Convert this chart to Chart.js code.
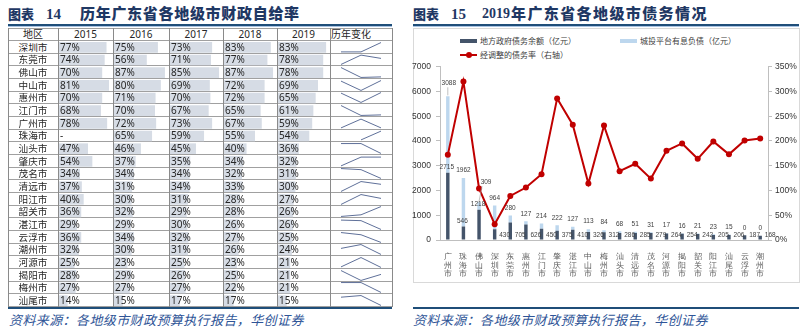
<!DOCTYPE html>
<html><head><meta charset="utf-8">
<script src="https://cdn.jsdelivr.net/npm/chart.js@4.4.1/dist/chart.umd.min.js"></script>
<style>
html,body{margin:0;padding:0;background:#fff;}
body{width:805px;height:335px;position:relative;overflow:hidden;font-family:"Noto Sans CJK SC","Noto Sans",sans-serif;}
.a{position:absolute;white-space:nowrap;}
.ttl{color:#1f3864;font-weight:900;font-size:15px;line-height:18px;}
.num{font-family:"Liberation Serif",serif;font-weight:700;font-size:15px;}
.foot{color:#2f5597;font-style:italic;font-size:13px;line-height:16px;letter-spacing:0.4px;}
.cell{font-size:10px;color:#262626;}
.dig{font-family:"Noto Sans","Liberation Sans",sans-serif;font-size:10px;color:#262626;}
.lg{font-size:8px;color:#404040;line-height:10px;}
canvas{position:absolute;}
</style></head>
<body>
<script>
// ---------------- data: left table ----------------
const cities = ['深圳市','东莞市','佛山市','中山市','惠州市','江门市','广州市','珠海市','汕头市','肇庆市','茂名市','清远市','阳江市','韶关市','湛江市','云浮市','潮州市','河源市','揭阳市','梅州市','汕尾市'];
const yearLabels = ['2015','2016','2017','2018','2019'];
const rate2015 = [77,74,70,81,70,68,78,null,47,54,34,37,40,36,29,36,32,25,28,27,14];
const rate2016 = [75,56,87,80,71,70,72,65,46,37,34,31,30,32,29,34,30,23,29,27,15];
const rate2017 = [73,71,85,69,70,67,73,59,45,35,34,34,31,29,30,32,31,25,26,27,17];
const rate2018 = [83,77,87,72,72,65,67,55,40,34,32,33,28,28,26,27,26,23,25,22,17];
const rate2019 = [83,78,78,69,65,61,59,54,36,32,31,30,27,26,26,25,24,21,21,21,15];
// sparkline shapes as drawn in the "历年变化" column (relative level)
const trendShape = [
 [0.1,0.1,0.95],[0.05,0.9,0.6],[0.95,0.05,0.1],[0.9,0.05,0.95],[0.9,0.05,0.95],
 [0.95,0.05,0.1],[0.1,0.9,0.1],[null,0.1,0.9],[0.95,0.95,0.05],[0.1,0.9,0.9],
 [0.95,0.85,0.05],[0.05,0.95,0.7],[0.05,0.95,0.6],[0.05,0.2,0.95],[0.9,0.85,0.05],
 [0.95,0.75,0.05],[0.6,0.95,0.05],[0.1,0.95,0.05],[0.95,0.05,0.6],[0.95,0.95,0.05],
 [0.8,0.95,0.05]];

// ---------------- data: right chart ----------------
const debtCities = ['广州市','珠海市','佛山市','深圳市','东莞市','惠州市','江门市','肇庆市','湛江市','中山市','梅州市','汕头市','清远市','茂名市','河源市','揭阳市','韶关市','阳江市','汕尾市','云浮市','潮州市'];
const govDebt  = [2715,546,1218,430,705,626,450,375,410,326,312,286,285,279,264,254,242,205,206,187,168];
const lgfvDebt = [3088,1962,309,964,280,127,214,222,127,113,84,68,51,31,17,16,21,23,15,0,0];
const debtRatio = [172,320,104,32,89,106,133,286,233,114,231,139,154,124,180,195,164,199,173,201,205];
const seriesNames = ['地方政府债务余额（亿元）','城投平台有息负债（亿元）','经调整的债务率（右轴）'];

const rateByYear = [rate2015, rate2016, rate2017, rate2018, rate2019];

// ---------------- helpers ----------------
function div(cls, text, css){ const d=document.createElement('div'); d.className='a '+(cls||''); if(text!==undefined) d.textContent=text; Object.assign(d.style,css||{}); document.body.appendChild(d); return d; }
function cv(x,y,w,h){ const c=document.createElement('canvas'); c.width=w; c.height=h; c.style.left=x+'px'; c.style.top=y+'px'; c.style.width=w+'px'; c.style.height=h+'px'; document.body.appendChild(c); return c; }

// ---------------- titles / rules / footers ----------------
div('ttl','图表',{left:'8px',top:'5px',fontSize:'13px'});
div('ttl num','14',{left:'46px',top:'5px'});
div('ttl','历年广东省各地级市财政自给率',{left:'80px',top:'4px',letterSpacing:'0.7px'});
div('ttl','图表',{left:'413px',top:'5px',fontSize:'13px'});
div('ttl num','15',{left:'451px',top:'5px'});
div('ttl num','2019',{left:'482px',top:'5px',fontSize:'14px'});
div('ttl','年广东省各地级市债务情况',{left:'511px',top:'4px',letterSpacing:'1.4px'});
[[8,392],[413,799]].forEach(([x0,x1])=>{
  div('',undefined,{left:x0+'px',top:'24px',width:(x1-x0)+'px',height:'2px',background:'#1f4e79'});
  div('',undefined,{left:x0+'px',top:'26px',width:(x1-x0)+'px',height:'1px',background:'#a9c4e3'});
  div('',undefined,{left:x0+'px',top:'307px',width:(x1-x0)+'px',height:'2px',background:'#1f4e79'});
});
div('foot','资料来源：各地级市财政预算执行报告，华创证券',{left:'9px',top:'312px'});
div('foot','资料来源：各地级市财政预算执行报告，华创证券',{left:'413px',top:'312px'});

// ---------------- left table ----------------
const colEdges=[8,58,113,169,223,277,330,392];
const tTop=28, hBot=40.5, rowH=12.667, tBot=hBot+rowH*cities.length;
for(let r=0;r<=cities.length;r++){
  const y=hBot+r*rowH;
  div('',undefined,{left:'8px',top:(y-0.5)+'px',width:'384px',height:'1px',background:'#a0a0a0'});
}
div('',undefined,{left:'8px',top:(tTop)+'px',width:'384px',height:'1px',background:'#a0a0a0'});
colEdges.forEach(x=>div('',undefined,{left:(x-0.5)+'px',top:tTop+'px',width:'1px',height:(tBot-tTop)+'px',background:'#8a8a8a'}));
// header
div('cell','地区',{left:colEdges[0]+'px',width:(colEdges[1]-colEdges[0])+'px',textAlign:'center',top:tTop+'px',lineHeight:(hBot-tTop)+'px'});
yearLabels.forEach((yl,i)=>div('dig',yl,{left:colEdges[i+1]+'px',width:(colEdges[i+2]-colEdges[i+1])+'px',textAlign:'center',top:tTop+'px',lineHeight:(hBot-tTop)+'px'}));
div('cell','历年变化',{left:(colEdges[6]+1)+'px',top:tTop+'px',lineHeight:(hBot-tTop)+'px'});

// data bars (one horizontal bar chart per year column)
rateByYear.forEach((vals,i)=>{
  const x0=colEdges[i+1]+1, w=colEdges[i+2]-colEdges[i+1]-2;
  const c=cv(x0,Math.round(hBot),w,Math.round(rowH*cities.length));
  const mx=Math.max(...vals.filter(v=>v!=null));
  new Chart(c,{type:'bar',data:{labels:cities,datasets:[{data:vals,backgroundColor:'#d6dce5',barPercentage:0.84,categoryPercentage:1}]},
    options:{indexAxis:'y',responsive:false,animation:false,devicePixelRatio:1,layout:{padding:0},
      plugins:{legend:{display:false},tooltip:{enabled:false}},
      scales:{x:{display:false,min:0,max:mx*1.06},y:{display:false}}}});
});
// cell texts
cities.forEach((name,r)=>{
  const top=hBot+r*rowH;
  div('cell',name,{left:colEdges[0]+'px',width:(colEdges[1]-colEdges[0])+'px',textAlign:'center',top:top+'px',lineHeight:rowH+'px',fontSize:'9.6px'});
  rateByYear.forEach((vals,i)=>{
    const v=vals[r];
    div('dig',v==null?'-':v+'%',{left:(colEdges[i+1]+2)+'px',top:top+'px',lineHeight:rowH+'px'});
  });
});
// sparklines
trendShape.forEach((pts,r)=>{
  const top=hBot+r*rowH;
  const c=cv(340,Math.round(top+1),42,Math.round(rowH-2));
  new Chart(c,{type:'line',data:{labels:pts.map((_,k)=>k),datasets:[{data:pts,borderColor:'#5f7099',borderWidth:1,pointRadius:0,tension:0,spanGaps:false}]},
    options:{responsive:false,animation:false,devicePixelRatio:1,layout:{padding:{left:1,right:1,top:0,bottom:0}},
      plugins:{legend:{display:false},tooltip:{enabled:false}},
      scales:{x:{display:false},y:{display:false,min:0,max:1}}}});
});

// ---------------- right chart ----------------
div('',undefined,{left:'413px',top:'28px',width:'385px',height:'253px',border:'1px solid #d9d9d9'});
div('',undefined,{left:'460px',top:'39px',width:'17px',height:'4px',background:'#44546a'});
div('lg',seriesNames[0],{left:'480px',top:'36px'});
div('',undefined,{left:'620px',top:'39px',width:'17px',height:'4px',background:'#bdd7ee'});
div('lg',seriesNames[1],{left:'640px',top:'36px'});
div('',undefined,{left:'460px',top:'54px',width:'17px',height:'2px',background:'#c00000'});
div('',undefined,{left:'465.5px',top:'52px',width:'6px',height:'6px',borderRadius:'3px',background:'#c00000'});
div('lg',seriesNames[2],{left:'480px',top:'50px'});

const callout = {0:{dx:1,dy:-13},2:{dx:7,dy:-20}};
const valueLabels={id:'valueLabels',afterDatasetsDraw(chart){
  const ctx=chart.ctx, ys=chart.scales.y;
  const dm=chart.getDatasetMeta(0), lm=chart.getDatasetMeta(1);
  ctx.save();
  ctx.font='6.5px "Liberation Sans",Arial,sans-serif';
  ctx.fillStyle='#404040'; ctx.textAlign='center'; ctx.textBaseline='middle';
  govDebt.forEach((v,i)=>{
    const b=dm.data[i];
    if(i<3) ctx.fillText(String(v),b.x-1,b.y-5.5);
    else ctx.fillText(String(v),b.x+10,ys.getPixelForValue(0)-5);
  });
  lgfvDebt.forEach((v,i)=>{
    const b=lm.data[i];
    const o=callout[i];
    if(o){
      const tx=b.x+o.dx, ty=b.y+o.dy;
      ctx.strokeStyle='#a6a6a6'; ctx.lineWidth=0.7;
      ctx.beginPath(); ctx.moveTo(tx+(o.dx>3?-4:-1),ty+4); ctx.lineTo(b.x,b.y-1); ctx.stroke();
      ctx.fillText(String(v),tx,ty);
    } else ctx.fillText(String(v),b.x,b.y-7.5);
  });
  ctx.restore();
}};
const rc=cv(405,28,400,255);
new Chart(rc,{
  data:{labels:debtCities.map(s=>s.split('')),datasets:[
    {type:'bar',label:seriesNames[0],data:govDebt,backgroundColor:'#44546a',stack:'s',yAxisID:'y',barPercentage:0.22,categoryPercentage:1,order:2},
    {type:'bar',label:seriesNames[1],data:lgfvDebt,backgroundColor:'#bdd7ee',stack:'s',yAxisID:'y',barPercentage:0.22,categoryPercentage:1,order:2},
    {type:'line',label:seriesNames[2],data:debtRatio,yAxisID:'y1',borderColor:'#c00000',borderWidth:2,pointRadius:3,pointBackgroundColor:'#c00000',pointBorderWidth:0,tension:0,order:1}
  ]},
  options:{responsive:false,animation:false,devicePixelRatio:1,
    layout:{padding:{top:38.7,left:0,right:0,bottom:0}},
    plugins:{legend:{display:false},tooltip:{enabled:false}},
    scales:{
      x:{stacked:true,offset:true,grid:{display:false},border:{display:true,color:'#bfbfbf'},
         ticks:{autoSkip:false,maxRotation:0,padding:5,color:'#595959',font:{size:7.5,lineHeight:1.12}},
         afterFit(s){s.height=43;}},
      y:{stacked:true,position:'left',min:0,max:7000,border:{color:'#bfbfbf'},
         grid:{drawOnChartArea:false,tickLength:4,color:'#bfbfbf'},
         ticks:{stepSize:1000,padding:5,color:'#333',callback:v=>String(v),font:{size:8.5,family:'"Liberation Sans",Arial,sans-serif'}},
         afterFit(s){s.width=35;}},
      y1:{position:'right',min:0,max:350,border:{color:'#bfbfbf'},
         grid:{drawOnChartArea:false,tickLength:4,color:'#bfbfbf'},
         ticks:{stepSize:50,padding:3,color:'#333',callback:v=>v+'%',font:{size:8.5,family:'"Liberation Sans",Arial,sans-serif'}},
         afterFit(s){s.width=37;}}
    }},
  plugins:[valueLabels]
});
</script>
</body></html>
